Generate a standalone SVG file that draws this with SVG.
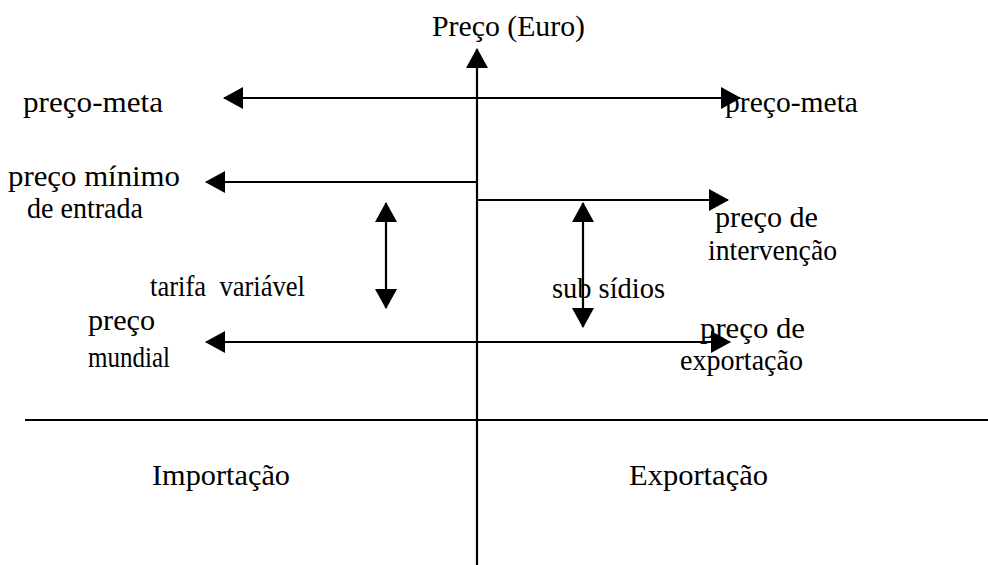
<svg xmlns="http://www.w3.org/2000/svg" width="988" height="565" viewBox="0 0 988 565">
<style>
text{font-family:"Liberation Serif","Times New Roman",serif;font-size:30px;fill:#000;white-space:pre}
.ln{stroke:#000;stroke-width:2.2;fill:none}
</style>
<defs>
<marker id="ah" viewBox="0 0 20 22" refX="19" refY="11" markerWidth="20" markerHeight="22" markerUnits="userSpaceOnUse" orient="auto-start-reverse">
<path d="M0,0 L20,11 L0,22 z" fill="#000"/>
</marker>
</defs>
<rect width="988" height="565" fill="#fff"/>
<g id="connectors">
<path class="ln" d="M477,565 V49" marker-end="url(#ah)"/>
<path class="ln" d="M25,420 H988"/>
<path class="ln" d="M224,98 H740" marker-start="url(#ah)" marker-end="url(#ah)"/>
<path class="ln" d="M206,182 H477" marker-start="url(#ah)"/>
<path class="ln" d="M477,200 H728" marker-end="url(#ah)"/>
<path class="ln" d="M206,342 H730" marker-start="url(#ah)" marker-end="url(#ah)"/>
<path class="ln" d="M386,203 V308" marker-start="url(#ah)" marker-end="url(#ah)"/>
<path class="ln" d="M583,203 V327" marker-start="url(#ah)" marker-end="url(#ah)"/>
</g>
<g id="axis-label"><text x="432" y="36" textLength="153" lengthAdjust="spacingAndGlyphs">Preço (Euro)</text></g>
<g id="preco-meta-left"><text x="23" y="112" textLength="140" lengthAdjust="spacingAndGlyphs">preço-meta</text></g>
<g id="preco-meta-right"><text x="725" y="112" textLength="133" lengthAdjust="spacingAndGlyphs">preço-meta</text></g>
<g id="preco-minimo">
<text x="8" y="186" textLength="172" lengthAdjust="spacingAndGlyphs">preço mínimo</text>
<text x="27" y="218" textLength="116" lengthAdjust="spacingAndGlyphs">de entrada</text>
</g>
<g id="preco-intervencao">
<text x="715" y="227" textLength="103" lengthAdjust="spacingAndGlyphs">preço de</text>
<text x="708" y="260" textLength="129" lengthAdjust="spacingAndGlyphs">intervenção</text>
</g>
<g id="tarifa"><text x="150" y="296" textLength="155" lengthAdjust="spacingAndGlyphs">tarifa  variável</text></g>
<g id="subsidios"><text x="552" y="298" textLength="113" lengthAdjust="spacingAndGlyphs">sub sídios</text></g>
<g id="preco-mundial">
<text x="88" y="330" textLength="67" lengthAdjust="spacingAndGlyphs">preço</text>
<text x="88" y="367" textLength="82" lengthAdjust="spacingAndGlyphs">mundial</text>
</g>
<g id="preco-exportacao">
<text x="700" y="338" textLength="105" lengthAdjust="spacingAndGlyphs">preço de</text>
<text x="680" y="370" textLength="123" lengthAdjust="spacingAndGlyphs">exportação</text>
</g>
<g id="importacao"><text x="152" y="485" textLength="138" lengthAdjust="spacingAndGlyphs">Importação</text></g>
<g id="exportacao"><text x="629" y="485" textLength="139" lengthAdjust="spacingAndGlyphs">Exportação</text></g>
</svg>
